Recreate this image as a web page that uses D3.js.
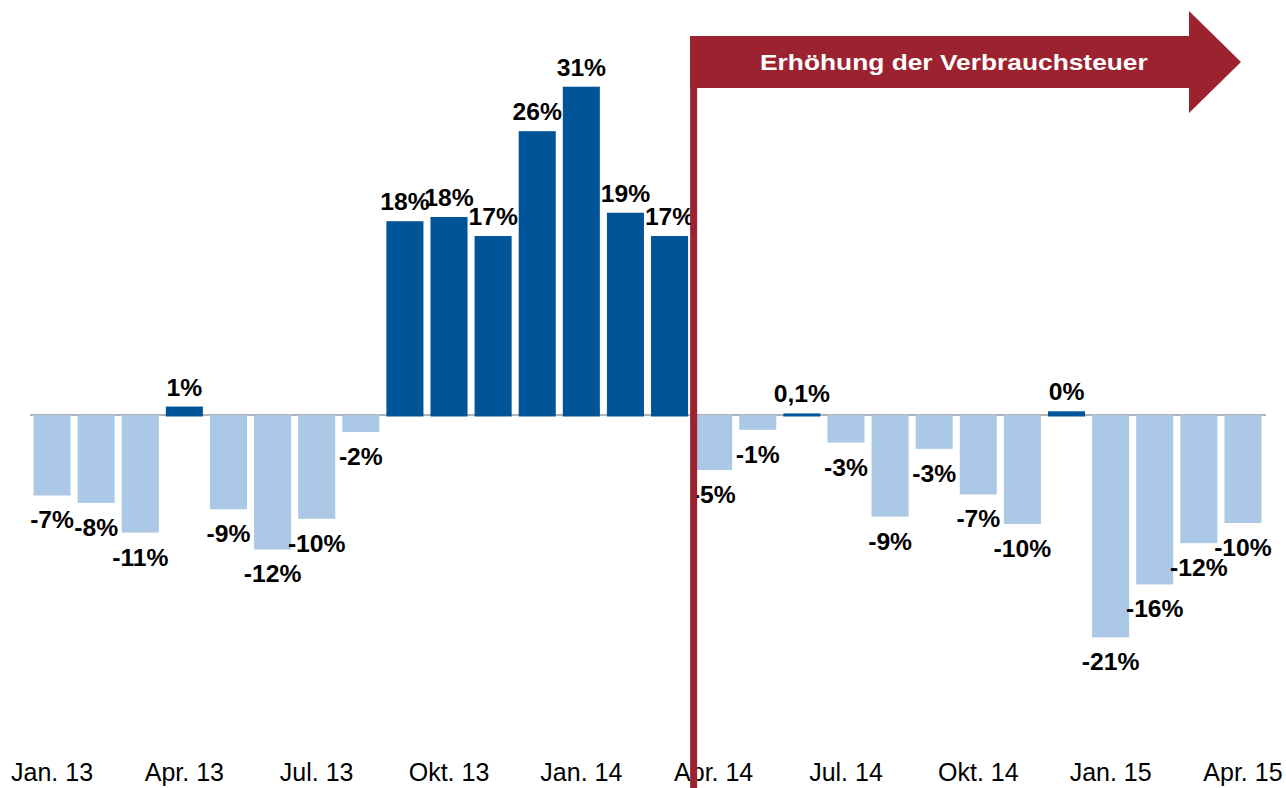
<!DOCTYPE html>
<html>
<head>
<meta charset="utf-8">
<script src="https://cdn.jsdelivr.net/npm/d3@7"></script>
<style>
  body { margin: 0; background: #fff; }
  svg { display: block; font-family: "Liberation Sans", Arial, sans-serif; }
</style>
</head>
<body>
<div id="chart"></div>
<script>
// months Jan 13 .. Apr 15
var months = ["Jan. 13","Feb. 13","Mär. 13","Apr. 13","Mai 13","Jun. 13","Jul. 13","Aug. 13",
  "Sep. 13","Okt. 13","Nov. 13","Dez. 13","Jan. 14","Feb. 14","Mär. 14","Apr. 14","Mai 14",
  "Jun. 14","Jul. 14","Aug. 14","Sep. 14","Okt. 14","Nov. 14","Dez. 14","Jan. 15","Feb. 15",
  "Mär. 15","Apr. 15"];

// change vs. previous year, %
var values = [-7.6, -8.3, -11.1, 0.8, -8.9, -12.7, -9.8, -1.6,
  18.3, 18.7, 16.9, 26.8, 31.0, 19.1, 16.9, -5.2, -1.4,
  0.15, -2.6, -9.6, -3.2, -7.5, -10.3, 0.35, -21.0, -16.0,
  -12.1, -10.2];

var valueLabels = ["-7%","-8%","-11%","1%","-9%","-12%","-10%","-2%",
  "18%","18%","17%","26%","31%","19%","17%","-5%","-1%",
  "0,1%","-3%","-9%","-3%","-7%","-10%","0%","-21%","-16%",
  "-12%","-10%"];

var tickLabels = months.filter(function(d, i){ return i % 3 == 0; });

var annotationText = "Erhöhung der Verbrauchsteuer";
var eventMonth = "Apr. 14";

var width = 1286, height = 788;

var svg = d3.select('#chart').append('svg')
  .attr('width', width)
  .attr('height', height);

var x = d3.scaleBand()
  .domain(months)
  .range([30, 1265])
  .paddingInner(0.16)
  .paddingOuter(0.08);

var y = d3.scaleLinear()
  .domain([-30, 35])
  .range([415 + 30 * 10.59, 415 - 35 * 10.59]);

// zero line
svg.append('line')
  .attr('x1', 30)
  .attr('x2', 1266)
  .attr('y1', y(0))
  .attr('y2', y(0))
  .style('stroke', '#b3b3b3')
  .style('stroke-width', 2);

// bars
svg.selectAll('rect.bar')
  .data(values)
  .enter()
  .append('rect')
  .attr('class', 'bar')
  .attr('x', function(d, i){ return x(months[i]); })
  .attr('width', x.bandwidth())
  .attr('y', function(d){ return y(Math.max(d, 0)); })
  .attr('height', function(d){ return Math.abs(y(d) - y(0)) + (d >= 0 ? 1.5 : 0); })
  .style('fill', function(d){ return d >= 0 ? '#005598' : '#abc8e6'; });

// value labels
svg.selectAll('text.lbl')
  .data(values)
  .enter()
  .append('text')
  .attr('class', 'lbl')
  .attr('transform', function(d, i){
    var cx = x(months[i]) + x.bandwidth() / 2;
    var cy = d >= 0 ? y(d) - 11 : y(d) + 33;
    return 'translate(' + cx + ',' + cy + ') scale(1.05,1)';
  })
  .attr('text-anchor', 'middle')
  .style('font-size', '23.5px')
  .style('font-weight', 'bold')
  .style('fill', '#000')
  .text(function(d, i){ return valueLabels[i]; });

// x axis (every third month)
var xAxis = d3.axisBottom(x)
  .tickValues(tickLabels)
  .tickSize(0)
  .tickPadding(0);

var axisG = svg.append('g')
  .attr('transform', 'translate(0,763)')
  .call(xAxis);

axisG.select('.domain').remove();
axisG.selectAll('text')
  .style('font-size', '25px')
  .style('font-family', '"Liberation Sans", Arial, sans-serif')
  .style('fill', '#000');

// annotation: red marker line + arrow
var red = '#9c2230';
var lineX = x(eventMonth) - 5;

svg.append('rect')
  .attr('x', lineX)
  .attr('y', 36)
  .attr('width', 7)
  .attr('height', height - 36)
  .style('fill', red);

var arrow = [
  [lineX, 36], [1189, 36], [1189, 11], [1241, 62],
  [1189, 113], [1189, 88], [lineX, 88]
];

svg.append('path')
  .attr('d', d3.line()(arrow) + 'Z')
  .style('fill', red);

var title = svg.append('text')
  .style('font-size', '22.5px')
  .style('font-weight', 'bold')
  .style('fill', '#fff')
  .text(annotationText);

// stretch the glyphs to the width the banner text has in the original
var natural = title.node().getComputedTextLength();
title.attr('transform', 'translate(760,69.5) scale(' + (388 / natural) + ',1)');
</script>
</body>
</html>
